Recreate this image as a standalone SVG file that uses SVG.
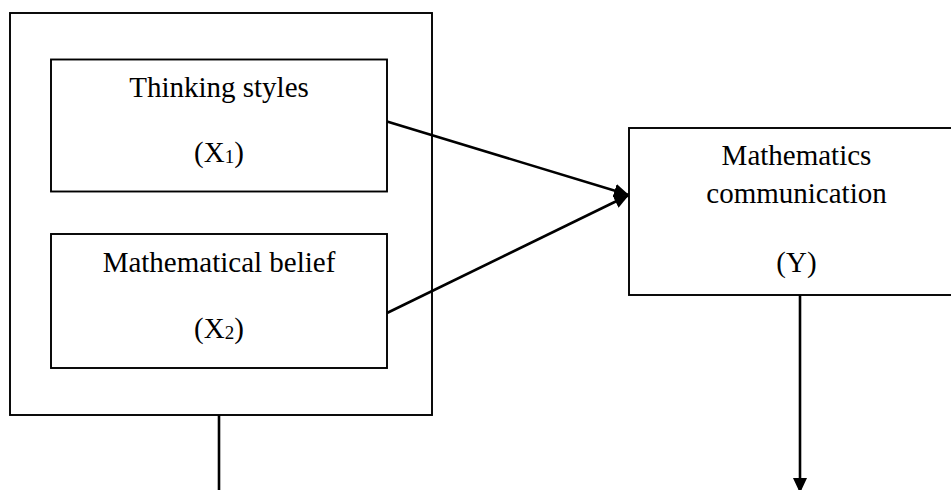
<svg xmlns="http://www.w3.org/2000/svg" width="951" height="490" viewBox="0 0 951 490">
<style>
.box{fill:#fff;stroke:#000;stroke-width:1.9}
.t{font-family:"Liberation Serif","Times New Roman",serif;font-size:29px;fill:#000;text-anchor:middle}
.sub{font-size:19px}
.ln{stroke:#000;stroke-width:2.6;fill:none}
</style>
<defs>
<marker id="ah" markerUnits="userSpaceOnUse" markerWidth="16" markerHeight="14" refX="15" refY="7" orient="auto">
<path d="M0,0 L15,7 L0,14 z" fill="#000"/>
</marker>
</defs>
<rect width="951" height="490" fill="#fff"/>
<g id="outer">
<rect class="box" x="10" y="13" width="422" height="402"/>
</g>
<g id="x1">
<rect class="box" x="51" y="59.5" width="336" height="132"/>
<text class="t" x="219" y="97">Thinking styles</text>
<text class="t" x="219" y="162">(X<tspan class="sub" dy="1">1</tspan><tspan dy="-1">)</tspan></text>
</g>
<g id="x2">
<rect class="box" x="51" y="234" width="336" height="134"/>
<text class="t" x="219" y="272">Mathematical belief</text>
<text class="t" x="219" y="338">(X<tspan class="sub" dy="1">2</tspan><tspan dy="-1">)</tspan></text>
</g>
<g id="y">
<rect class="box" x="629" y="128" width="340" height="167"/>
<text class="t" x="796.5" y="165">Mathematics</text>
<text class="t" x="796.5" y="203">communication</text>
<text class="t" x="796.5" y="272">(Y)</text>
</g>
<g id="connectors">
<line class="ln" x1="387" y1="121.5" x2="629" y2="195" marker-end="url(#ah)"/>
<line class="ln" x1="387" y1="313" x2="629" y2="195" marker-end="url(#ah)"/>
<line class="ln" x1="219" y1="415" x2="219" y2="490"/>
<line class="ln" x1="800" y1="295" x2="800" y2="493" marker-end="url(#ah)"/>
</g>
</svg>
